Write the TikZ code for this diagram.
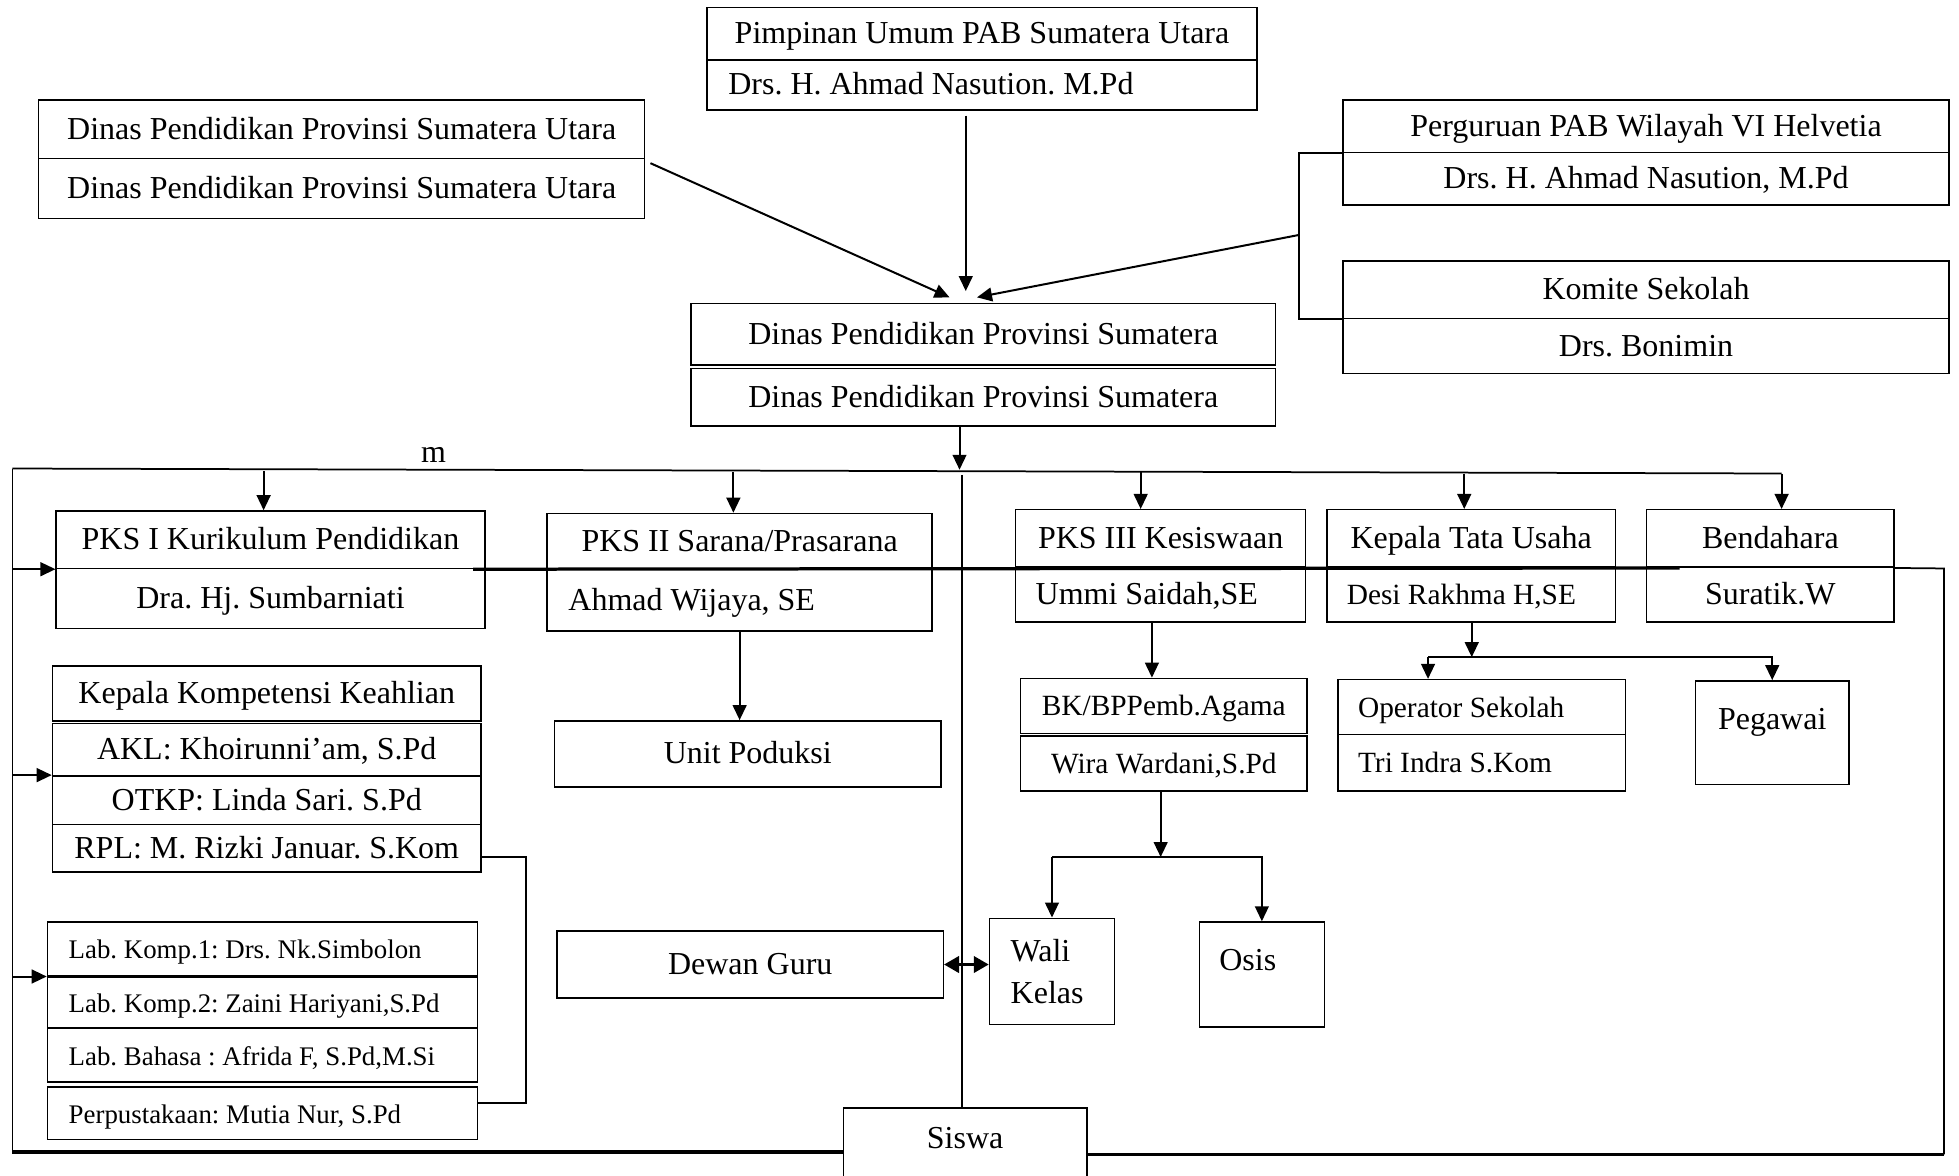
\documentclass[tikz,border=0pt]{standalone}
\usepackage{fontspec}
\setmainfont{Liberation Serif}
\usetikzlibrary{arrows.meta,calc}
\tikzset{
  box/.style={draw, line width=0.6pt, inner sep=0pt, text height=8.5pt, text depth=0.5pt},
  arr/.style={line width=0.8pt, -{Triangle[length=6pt,width=5.5pt]}},
  darr/.style={line width=1.3pt, {Triangle[length=6pt,width=6.5pt]}-{Triangle[length=6pt,width=6.5pt]}},
  ln/.style={line width=0.7pt},
  heavy/.style={line width=1.3pt},
  fmain/.style={font=\fontsize{12.8}{15.4}\selectfont},
  fsmall/.style={font=\fontsize{11.75}{14}\selectfont},
  flab/.style={font=\fontsize{10.75}{13}\selectfont},
  lft/.style={align=flush left, text width=#1},
}
\newcommand\bx[7][]{%
  \node[box,minimum width={(#5-#3)*0.5pt},minimum height={(#6-#4)*0.5pt},#1] (#2) at ({(#3+#5)/2},{(#4+#6)/2}) {#7};}
\frenchspacing
\begin{document}
\frenchspacing
\begin{tikzpicture}[x=0.5pt,y=-0.5pt, every node/.style={fmain}]
\useasboundingbox (0,0) rectangle (1568,941);

% top level
\bx{pimA}{566}{6}{1006}{48}{Pimpinan Umum PAB Sumatera Utara}
\bx[lft=203pt]{pimB}{566}{48}{1006}{88}{Drs. H. Ahmad Nasution. M.Pd}
\bx{dinA}{31}{80}{516}{127}{Dinas Pendidikan Provinsi Sumatera Utara}
\bx{dinB}{31}{127}{516}{175}{Dinas Pendidikan Provinsi Sumatera Utara}
\bx{perA}{1075}{80}{1560}{122}{Perguruan PAB Wilayah VI Helvetia}
\bx{perB}{1075}{122}{1560}{164}{Drs. H. Ahmad Nasution, M.Pd}
\bx{komA}{1075}{209}{1560}{255}{Komite Sekolah}
\bx{komB}{1075}{255}{1560}{299}{Drs. Bonimin}
\bx{cenA}{553}{243}{1021}{292}{Dinas Pendidikan Provinsi Sumatera}
\bx{cenB}{553}{295}{1021}{341}{Dinas Pendidikan Provinsi Sumatera}

% row 1
\bx{pkaA}{45}{409}{388}{455}{PKS I Kurikulum Pendidikan}
\bx{pkaB}{45}{455}{388}{503}{Dra. Hj. Sumbarniati}
\bx{pkbA}{438}{411}{746}{456}{PKS II Sarana/Prasarana}
\bx[lft=137pt]{pkbB}{438}{456}{746}{505}{Ahmad Wijaya, SE}
\bx{pkcA}{813}{408}{1045}{454}{PKS III Kesiswaan}
\bx[lft=100pt]{pkcB}{813}{454}{1045}{498}{Ummi Saidah,SE}
\bx{ktuA}{1062}{408}{1293}{454}{Kepala Tata Usaha}
\bx[fsmall,lft=99.5pt]{ktuB}{1062}{454}{1293}{498}{Desi Rakhma H,SE}
\bx{benA}{1318}{408}{1516}{454}{Bendahara}
\bx{benB}{1318}{454}{1516}{498}{Suratik.W}

% kompetensi
\bx{kk1}{42}{533}{385}{577}{Kepala Kompetensi Keahlian}
\bx{kk2}{42}{579}{385}{621}{AKL: Khoirunni’am, S.Pd}
\bx{kk3}{42}{621}{385}{660}{OTKP: Linda Sari. S.Pd}
\bx{kk4}{42}{660}{385}{698}{RPL: M. Rizki Januar. S.Kom}

% labs
\bx[flab,lft=155pt]{lab1}{38}{738}{382}{781}{Lab. Komp.1: Drs. Nk.Simbolon}
\bx[flab,lft=155pt]{lab2}{38}{782}{382}{823}{Lab. Komp.2: Zaini Hariyani,S.Pd}
\bx[flab,lft=155pt]{lab3}{38}{823}{382}{866}{Lab. Bahasa : Afrida F, S.Pd,M.Si}
\bx[flab,lft=155pt]{lab4}{38}{870}{382}{912}{Perpustakaan: Mutia Nur, S.Pd}

% middle
\bx{unit}{444}{577}{753}{630}{Unit Poduksi}
\bx{dg}{446}{745}{755}{799}{Dewan Guru}
\bx[fsmall]{bk1}{817}{543}{1046}{587}{BK/BPPemb.Agama}
\bx[fsmall]{bk2}{817}{589}{1046}{633}{Wira Wardani,S.Pd}
\node[draw,line width=0.6pt,inner sep=0pt,minimum width=50pt,minimum height=42.5pt,
      lft=33pt,font=\fontsize{12.8}{17}\selectfont] (wali) at (842,777.5) {Wali\\Kelas};
\bx[lft=34pt,text depth=12pt]{osis}{960}{738}{1060}{822}{Osis}
\bx[fsmall,lft=99pt]{opA}{1071}{544}{1301}{588}{Operator Sekolah}
\bx[fsmall,lft=99pt]{opB}{1071}{588}{1301}{633}{Tri Indra S.Kom}
\bx[text depth=11.5pt]{peg}{1357}{545}{1480}{628}{Pegawai}
\bx[text depth=5pt]{siswa}{675}{887}{870}{945}{Siswa}
\node (mlab) at (347,364) {m};

% top connectors
\coordinate (aL) at (760,238);
\coordinate (aM) at (773,233);
\coordinate (aR) at (782,238);
\coordinate (brk) at (1040,188);
\draw[arr] ($(dinA.south east)+(4,3)$) -- (aL);
\draw[arr] ($(pimB.south -| aM)+(0,4)$) -- (aM);
\draw[ln] (perA.south west) -| (brk) |- (komA.south west);
\draw[arr] (brk) -- (aR);

% frame
\coordinate (tl) at (10,375);
\coordinate (tr) at (1426,379);
\coordinate (lb) at (10,922);
\coordinate (rt) at (1556,455);
\coordinate (rb) at (1556,924);
\coordinate (cdn) at (768,344);
\draw[arr] (cenB.south -| cdn) -- (768,376);
\draw[ln] (tl) -- (tr);
\draw[ln] (tl) -- (lb);
\draw[heavy] (lb) -- (lb -| siswa.west);
\draw[ln] (benA.south east) -- (rt) -- (rb);
\draw[heavy] (rb) -- (rb -| siswa.east);
\draw[ln] (770,380) -- (siswa.north -| 770,0);

% arrows to row 1
\coordinate (t1) at (211,377);
\coordinate (t2) at (587,378);
\coordinate (t3) at (913,378);
\coordinate (t4) at (1172,379);
\coordinate (t5) at (1426,379);
\draw[arr] (t1) -- (t1 |- pkaA.north);
\draw[arr] (t2) -- (t2 |- pkbA.north);
\draw[arr] (t3) -- (t3 |- pkcA.north);
\draw[arr] (t4) -- (t4 |- ktuA.north);
\draw[arr] (t5) -- (t5 |- benA.north);

% heavy line across row 1
\draw[heavy] ($(pkaA.south east)+(-10,0)$) -- ($(benA.south west)+(27,0)$);

% left arrows
\draw[arr] (pkaA.south west -| tl) -- (pkaA.south west);
\draw[arr] (kk3.north west -| tl) -- (kk3.north west);
\draw[arr] (lab1.south west -| tl) -- (lab1.south west);

% left bracket
\coordinate (brL) at (421,785);
\draw[ln] ($(kk4.east)+(0,7)$) -| (brL) |- ($(lab4.east)+(0,-8)$);

% middle connectors
\draw[arr] (pkbB.south) -- (pkbB.south |- unit.north);
\coordinate (bkx) at (922,0);
\draw[arr] (pkcB.south -| bkx) -- (bk1.north -| bkx);
\coordinate (sp1) at (929,686);
\draw[arr] (bk2.south -| sp1) -- (sp1);
\draw[arr] (wali.north |- sp1) -- (wali.north);
\draw[arr] (wali.north |- sp1) -| (osis.north);
\draw[darr] (dg.east) -- (dg.east -| wali.west);

% tata usaha connectors
\coordinate (sp2) at (1178,526);
\coordinate (opx) at (1143,526);
\draw[arr] (ktuB.south -| sp2) -- (sp2);
\draw[arr] (opx) -- (opA.north -| opx);
\draw[arr] (opx) -| (peg.north);
\end{tikzpicture}
\end{document}
